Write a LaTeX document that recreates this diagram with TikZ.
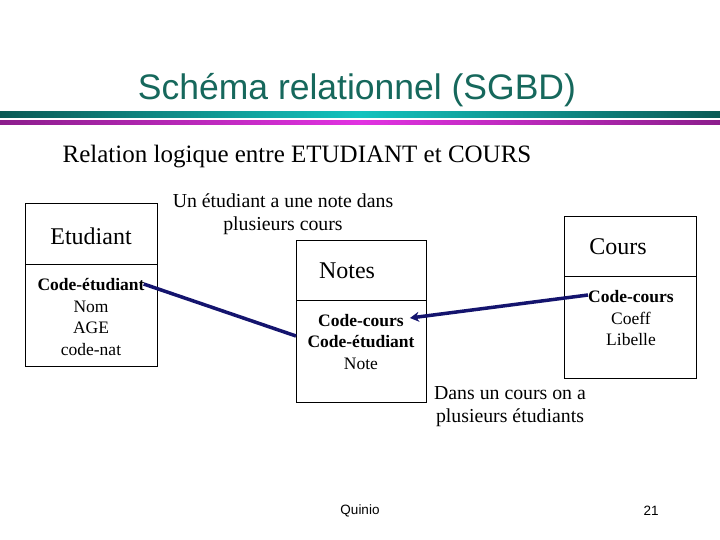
\documentclass[tikz,border=0pt]{standalone}
\usepackage{fontspec}
\setmainfont{Liberation Serif}
\newfontfamily\arialf{Liberation Sans}
\usetikzlibrary{arrows.meta}
\definecolor{titleteal}{RGB}{22,104,92}
\definecolor{navy}{RGB}{20,20,110}
\definecolor{tealdark}{RGB}{10,90,85}
\definecolor{tealmid}{RGB}{20,195,190}
\definecolor{magdark}{RGB}{140,30,140}
\definecolor{magmid}{RGB}{225,50,225}
\tikzset{
  box/.style={draw=black, line width=0.9pt},
  attr/.style={inner sep=0pt, font=\fontsize{17.5}{21}\selectfont, align=center},
  battr/.style={inner sep=0pt, font=\bfseries\fontsize{17.5}{21}\selectfont, align=center},
  ttl/.style={inner sep=0pt, font=\fontsize{24}{28}\selectfont},
  link/.style={draw=navy, line width=3.5pt},
}
\begin{document}
\begin{tikzpicture}[x=1pt,y=-1pt]
\useasboundingbox (0,0) rectangle (720,540);
\fill[white] (0,0) rectangle (720,540);
% title
\node[inner sep=0pt, text=titleteal, font=\arialf\fontsize{35.5}{40}\selectfont] (title) at (357,90) {Schéma relationnel (SGBD)};
\shade[left color=tealdark, right color=tealdark, middle color=tealmid] (0,112) rectangle (720,118);
\shade[left color=magdark, right color=magdark, middle color=magmid] (0,121) rectangle (720,125);
% subtitle
\node[inner sep=0pt, font=\fontsize{25}{29}\selectfont] (sub) at (297,157) {Relation logique entre ETUDIANT et COURS};
% Etudiant
\node[box, minimum width=132pt, minimum height=163pt, inner sep=0pt] (etud) at (91,284.5) {};
\draw[box] (25,264) -- (157,264);
\node[ttl] (etudT) at (91,236) {Etudiant};
\node[battr] (etA1) at (91,285) {Code-étudiant};
\node[attr] (etA2) at (91,307) {Nom};
\node[attr] (etA3) at (91,328) {AGE};
\node[attr] (etA4) at (91,350) {code-nat};
% Notes
\node[box, minimum width=130pt, minimum height=162pt, inner sep=0pt] (notes) at (361,321) {};
\draw[box] (296,300) -- (426,300);
\node[ttl] (notesT) at (347,271) {Notes};
\node[battr] (noA1) at (361,321) {Code-cours};
\node[battr] (noA2) at (361,342) {Code-étudiant};
\node[attr] (noA3) at (361,364) {Note};
% Cours
\node[box, minimum width=132pt, minimum height=162pt, inner sep=0pt] (cours) at (630,297) {};
\draw[box] (564,276) -- (696,276);
\node[ttl] (coursT) at (618,247) {Cours};
\node[battr] (coA1) at (631,297) {Code-cours};
\node[attr] (coA2) at (631,318) {Coeff};
\node[attr] (coA3) at (631,340) {Libelle};
% annotations
\node[inner sep=0pt, align=center, font=\fontsize{19.8}{23}\selectfont] (ann1) at (283,214.5) {Un étudiant a une note dans\\plusieurs cours};
\node[inner sep=0pt, align=center, font=\fontsize{19.8}{23}\selectfont] (ann2) at (510,406.5) {Dans un cours on a\\plusieurs étudiants};
% links
\coordinate (n1) at (296,336);
\draw[link] ([xshift=-1pt,yshift=1pt]etA1.east) -- (n1);
\draw[link, -{Stealth[length=9pt,width=10pt]}] ([yshift=2pt]coA1.west) -- ([xshift=6pt,yshift=3pt]noA1.east);
% footer
\node[inner sep=0pt, font=\arialf\fontsize{13.5}{16}\selectfont] (foot) at (360,511) {Quinio};
\node[inner sep=0pt, font=\arialf\fontsize{13.5}{16}\selectfont] (page) at (651,511) {21};
\end{tikzpicture}
\end{document}
